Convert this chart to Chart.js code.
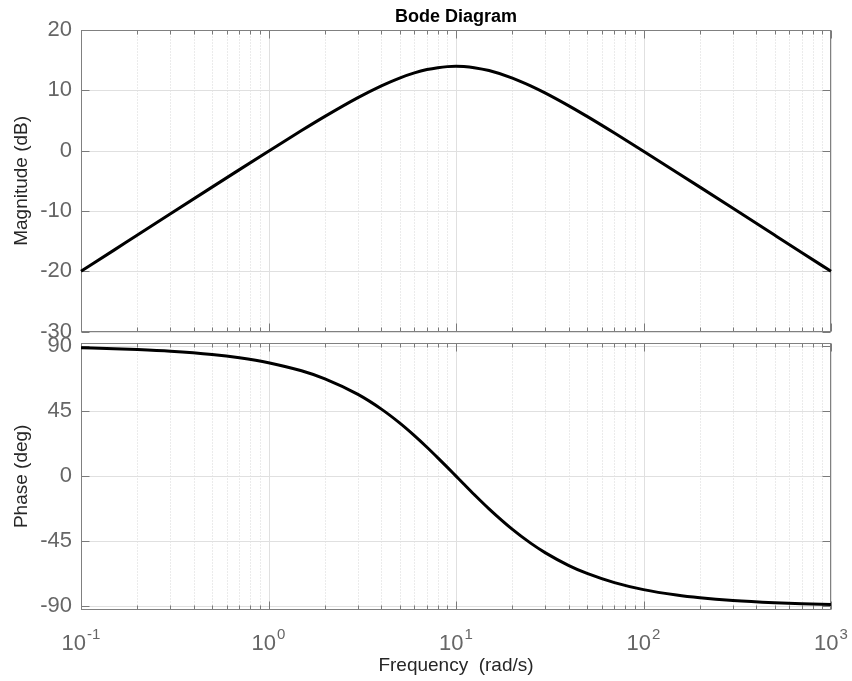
<!DOCTYPE html>
<html>
<head>
<meta charset="utf-8">
<title>Bode Diagram</title>
<script src="https://cdn.jsdelivr.net/npm/chart.js@4.4.1/dist/chart.umd.min.js"></script>
<style>
  html, body { margin: 0; padding: 0; background: #fff; }
  #wrap { position: relative; width: 852px; height: 681px; overflow: hidden; }
  #magCanvas { position: absolute; left: 0; top: 0; }
  #phaseCanvas { position: absolute; left: 0; top: 320px; }
</style>
</head>
<body>
<div id="wrap">
  <canvas id="magCanvas" width="852" height="360"></canvas>
  <canvas id="phaseCanvas" width="852" height="361"></canvas>
</div>
<script>
// Frequenzen (rad/s) und Werte
const freq = [0.1, 0.15, 0.2, 0.3, 0.5, 0.7, 1, 1.5, 2, 3, 4, 5, 6, 7, 8, 9, 10,
              11, 12.5, 15, 20, 25, 30, 40, 50, 70, 100, 150, 200, 300, 500, 700, 1000];
const magDb = [-20.0, -16.48, -13.98, -10.46, -6.04, -3.14, -0.09, 3.33, 5.68, 8.79, 10.75, 12.04, 12.89, 13.44, 13.76, 13.93, 13.98,
               13.94, 13.76, 13.28, 12.04, 10.75, 9.54, 7.43, 5.68, 2.92, -0.09, -3.56, -6.04, -9.55, -13.98, -16.90, -20.0];
const phaseDeg = [88.85, 88.28, 87.71, 86.56, 84.28, 81.99, 78.58, 72.94, 67.38, 56.60, 46.40, 36.87, 28.07, 20.02, 12.68, 6.03, 0,
                  -5.45, -12.68, -22.62, -36.87, -46.40, -53.13, -61.93, -67.38, -73.74, -78.58, -82.37, -84.28, -86.18, -87.71, -88.36, -88.85];

// Achsen
const magTicks = [-30, -20, -10, 0, 10, 20];
const phaseTicks = [-90, -45, 0, 45, 90];
const xDecadeExps = [-1, 0, 1, 2, 3];
const minorMults = [2, 3, 4, 5, 6, 7, 8, 9];

const FONT = "'Liberation Sans', Arial, Helvetica, sans-serif";
const TICK_COLOR = '#666666';
const LABEL_COLOR = '#262626';

// Raster, Rahmen und nach innen zeigende Striche wie in MATLAB
const bodeFrame = {
    id: 'bodeFrame',
    beforeDatasetsDraw(chart) {
        const { ctx, chartArea: a, scales: { x, y } } = chart;
        const L = Math.round(a.left) + 0.5, R = Math.round(a.right) - 0.5;
        const T = Math.round(a.top) + 0.5, B = Math.round(a.bottom) - 0.5;
        ctx.save();
        ctx.lineWidth = 1;

        // kleine Gitterlinien (gepunktet)
        ctx.strokeStyle = '#d6d6d6';
        ctx.setLineDash([1, 2]);
        ctx.beginPath();
        xDecadeExps.forEach(e => {
            minorMults.forEach(m => {
                const v = m * Math.pow(10, e);
                if (v >= x.max) return;
                const px = Math.round(x.getPixelForValue(v)) + 0.5;
                ctx.moveTo(px, T); ctx.lineTo(px, B);
            });
        });
        ctx.stroke();
        ctx.setLineDash([]);

        // Hauptgitter
        ctx.strokeStyle = '#e0e0e0';
        ctx.beginPath();
        xDecadeExps.forEach(e => {
            const px = Math.round(x.getPixelForValue(Math.pow(10, e))) + 0.5;
            ctx.moveTo(px, T); ctx.lineTo(px, B);
        });
        y.ticks.forEach(t => {
            const py = Math.round(y.getPixelForValue(t.value)) + 0.5;
            ctx.moveTo(L, py); ctx.lineTo(R, py);
        });
        ctx.stroke();

        // Striche
        ctx.strokeStyle = '#7a7a7a';
        ctx.beginPath();
        xDecadeExps.forEach(e => {
            const px = Math.round(x.getPixelForValue(Math.pow(10, e))) + 0.5;
            ctx.moveTo(px, T); ctx.lineTo(px, T + 8);
            ctx.moveTo(px, B); ctx.lineTo(px, B - 8);
            minorMults.forEach(m => {
                const v = m * Math.pow(10, e);
                if (v >= x.max) return;
                const mx = Math.round(x.getPixelForValue(v)) + 0.5;
                ctx.moveTo(mx, T); ctx.lineTo(mx, T + 4);
                ctx.moveTo(mx, B); ctx.lineTo(mx, B - 4);
            });
        });
        y.ticks.forEach(t => {
            const py = Math.round(y.getPixelForValue(t.value)) + 0.5;
            ctx.moveTo(L, py); ctx.lineTo(L + 8, py);
            ctx.moveTo(R, py); ctx.lineTo(R - 8, py);
        });
        ctx.stroke();

        // Rahmen
        ctx.strokeStyle = '#808080';
        ctx.strokeRect(L, T, R - L, B - T);
        ctx.restore();
    },
    afterDraw(chart, args, opts) {
        if (!opts.xLabels) return;
        const { ctx, scales: { x } } = chart;
        const baseY = x.top + 40;
        ctx.save();
        ctx.fillStyle = TICK_COLOR;
        ctx.textBaseline = 'alphabetic';
        xDecadeExps.forEach(e => {
            const px = x.getPixelForValue(Math.pow(10, e));
            ctx.font = '22px ' + FONT;
            const wBase = ctx.measureText('10').width;
            ctx.font = '15px ' + FONT;
            const wExp = ctx.measureText(String(e)).width;
            const start = px - (wBase + wExp + 1) / 2;
            ctx.font = '22px ' + FONT;
            ctx.textAlign = 'left';
            ctx.fillText('10', start, baseY);
            ctx.font = '15px ' + FONT;
            ctx.fillText(String(e), start + wBase + 1, baseY - 11.5);
        });
        ctx.restore();
    }
};

function lineData(values) {
    return freq.map((f, i) => ({ x: f, y: values[i] }));
}

const lineStyle = {
    borderColor: '#000000',
    borderWidth: 3,
    pointRadius: 0,
    cubicInterpolationMode: 'monotone',
    clip: 3
};

// Betrag
const magChart = new Chart(document.getElementById('magCanvas').getContext('2d'), {
    type: 'line',
    data: { datasets: [{ data: lineData(magDb), ...lineStyle }] },
    options: {
        responsive: false,
        animation: false,
        layout: { padding: { left: 0, right: 21, top: 0, bottom: 28.3 } },
        plugins: {
            legend: { display: false },
            tooltip: { enabled: false },
            title: {
                display: true,
                text: 'Bode Diagram',
                fullSize: false,
                color: '#000000',
                font: { family: FONT, size: 18, weight: 'bold' },
                padding: { top: 6, bottom: 2.4 }
            },
            bodeFrame: { xLabels: false }
        },
        scales: {
            x: {
                type: 'logarithmic',
                min: 0.1,
                max: 1000,
                ticks: { display: false },
                grid: { display: false },
                border: { display: false },
                afterFit: s => { s.height = 0; }
            },
            y: {
                min: -30,
                max: 20,
                afterBuildTicks: s => { s.ticks = magTicks.map(v => ({ value: v })); },
                afterFit: s => { s.width = 81; },
                ticks: { color: TICK_COLOR, font: { family: FONT, size: 22 }, padding: 9 },
                grid: { display: false, drawTicks: false },
                border: { display: false },
                title: {
                    display: true,
                    text: 'Magnitude (dB)',
                    color: LABEL_COLOR,
                    font: { family: FONT, size: 19 },
                    padding: { top: 10.5, bottom: 0 }
                }
            }
        }
    },
    plugins: [bodeFrame]
});

// Phase
const phaseChart = new Chart(document.getElementById('phaseCanvas').getContext('2d'), {
    type: 'line',
    data: { datasets: [{ data: lineData(phaseDeg), ...lineStyle }] },
    options: {
        responsive: false,
        animation: false,
        layout: { padding: { left: 0, right: 21, top: 22.7, bottom: 0 } },
        plugins: {
            legend: { display: false },
            tooltip: { enabled: false },
            bodeFrame: { xLabels: true }
        },
        scales: {
            x: {
                type: 'logarithmic',
                min: 0.1,
                max: 1000,
                ticks: { display: false },
                grid: { display: false },
                border: { display: false },
                afterFit: s => { s.height = 71; },
                title: {
                    display: true,
                    text: 'Frequency  (rad/s)',
                    color: LABEL_COLOR,
                    font: { family: FONT, size: 19 },
                    padding: { top: 0, bottom: 3.5 }
                }
            },
            y: {
                min: -92.7,
                max: 92.4,
                afterBuildTicks: s => { s.ticks = phaseTicks.map(v => ({ value: v })); },
                afterFit: s => { s.width = 81; },
                ticks: { color: TICK_COLOR, font: { family: FONT, size: 22 }, padding: 9 },
                grid: { display: false, drawTicks: false },
                border: { display: false },
                title: {
                    display: true,
                    text: 'Phase (deg)',
                    color: LABEL_COLOR,
                    font: { family: FONT, size: 19 },
                    padding: { top: 10.5, bottom: 0 }
                }
            }
        }
    },
    plugins: [bodeFrame]
});
</script>
</body>
</html>
